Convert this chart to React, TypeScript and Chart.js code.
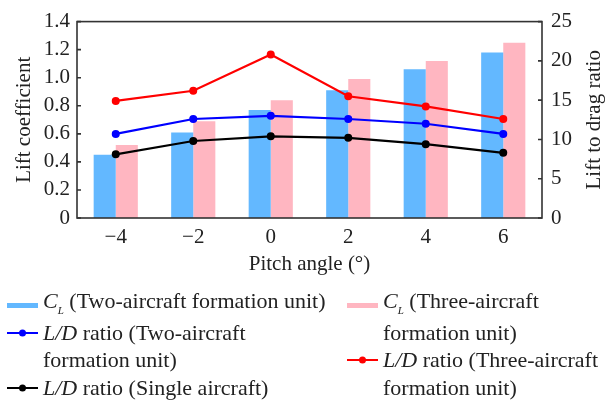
import React, { useEffect, useRef } from "react";
import { Chart, registerables } from "chart.js";

Chart.register(...registerables);

const categories = ["\u22124", "\u22122", "0", "2", "4", "6"];
const clTwo = [0.45, 0.61, 0.77, 0.91, 1.06, 1.18];
const clThree = [0.52, 0.69, 0.84, 0.99, 1.12, 1.25];
const ldTwo = [10.7, 12.6, 13.0, 12.6, 12.0, 10.7];
const ldThree = [14.9, 16.2, 20.8, 15.5, 14.2, 12.6];
const ldSingle = [8.1, 9.8, 10.4, 10.2, 9.4, 8.3];
const leftRange = [0, 1.4, 0.2];
const rightRange = [0, 25, 5];

const FONT = "'Liberation Serif', 'Times New Roman', serif";
const TEXT = "#222";
const BLUE_BAR = "#63B8FF";
const PINK_BAR = "#FFB6C1";

const framePlugin = {
  id: "frame",
  afterDatasetsDraw(chart: any) {
    const { ctx, chartArea } = chart;
    const { left, right, top, bottom } = chartArea;
    ctx.save();
    ctx.strokeStyle = "#333";
    ctx.lineWidth = 1.6;
    ctx.beginPath();
    const yl = chart.scales.y;
    const yr = chart.scales.y1;
    yl.ticks.forEach((t: any) => {
      const p = yl.getPixelForValue(t.value);
      ctx.moveTo(left, p);
      ctx.lineTo(left + 4, p);
    });
    yr.ticks.forEach((t: any) => {
      const p = yr.getPixelForValue(t.value);
      ctx.moveTo(right, p);
      ctx.lineTo(right - 4, p);
    });
    ctx.stroke();
    ctx.strokeRect(left, top, right - left, bottom - top);
    // right axis title reading bottom-to-top
    ctx.fillStyle = TEXT;
    ctx.font = `21px ${FONT}`;
    ctx.textAlign = "center";
    ctx.textBaseline = "middle";
    ctx.translate(594, (top + bottom) / 2);
    ctx.rotate(-Math.PI / 2);
    ctx.fillText("Lift to drag ratio", 0, 0);
    ctx.restore();
  },
};

function BarSwatch({ color }: { color: string }) {
  return (
    <svg width={31} height={28} style={{ display: "block" }}>
      <rect x={0} y={12} width={31} height={5} fill={color} />
    </svg>
  );
}

function LineSwatch({ color }: { color: string }) {
  return (
    <svg width={31} height={28} style={{ display: "block" }}>
      <line x1={0} y1={14} x2={31} y2={14} stroke={color} strokeWidth={2} />
      <circle cx={15.5} cy={14} r={3.5} fill={color} />
    </svg>
  );
}

const CL = () => (
  <span>
    <i>C</i>
    <sub style={{ fontSize: "11px", verticalAlign: "-6px", fontStyle: "italic" }}>L</sub>
  </span>
);
const LD = () => <i>L/D</i>;

type Row = { x: number; y: number; swatch?: React.ReactNode; text: React.ReactNode };

const rows: Row[] = [
  { x: 7, y: 305, swatch: <BarSwatch color={BLUE_BAR} />, text: <><CL /> (Two-aircraft formation unit)</> },
  { x: 7, y: 332.5, swatch: <LineSwatch color="#0000FF" />, text: <><LD /> ratio (Two-aircraft</> },
  { x: 7, y: 360, text: <>formation unit)</> },
  { x: 7, y: 387.5, swatch: <LineSwatch color="#000000" />, text: <><LD /> ratio (Single aircraft)</> },
  { x: 347, y: 305, swatch: <BarSwatch color={PINK_BAR} />, text: <><CL /> (Three-aircraft</> },
  { x: 347, y: 332.5, text: <>formation unit)</> },
  { x: 347, y: 360, swatch: <LineSwatch color="#FF0000" />, text: <><LD /> ratio (Three-aircraft</> },
  { x: 347, y: 387.5, text: <>formation unit)</> },
];

export default function App() {
  const ref = useRef<HTMLCanvasElement | null>(null);

  useEffect(() => {
    if (!ref.current) return;
    const lineDs = (label: string, data: number[], color: string) => ({
      type: "line" as const,
      label,
      data,
      yAxisID: "y1",
      borderColor: color,
      backgroundColor: color,
      borderWidth: 2.2,
      pointRadius: 4,
      pointBackgroundColor: color,
      pointBorderWidth: 0,
      tension: 0,
      order: 0,
    });
    const chart = new Chart(ref.current, {
      type: "bar",
      data: {
        labels: categories,
        datasets: [
          lineDs("L/D ratio (Three-aircraft formation unit)", ldThree, "#FF0000"),
          lineDs("L/D ratio (Two-aircraft formation unit)", ldTwo, "#0000FF"),
          lineDs("L/D ratio (Single aircraft)", ldSingle, "#000000"),
          {
            type: "bar",
            label: "CL (Two-aircraft formation unit)",
            data: clTwo,
            yAxisID: "y",
            backgroundColor: BLUE_BAR,
            borderWidth: 0,
            categoryPercentage: 0.57,
            barPercentage: 1.0,
            order: 1,
          },
          {
            type: "bar",
            label: "CL (Three-aircraft formation unit)",
            data: clThree,
            yAxisID: "y",
            backgroundColor: PINK_BAR,
            borderWidth: 0,
            categoryPercentage: 0.57,
            barPercentage: 1.0,
            order: 1,
          },
        ] as any,
      },
      options: {
        responsive: false,
        animation: false,
        layout: { padding: { top: 18, bottom: 117, left: 0, right: 0 } },
        plugins: { legend: { display: false }, tooltip: { enabled: false } },
        scales: {
          x: {
            type: "category",
            offset: true,
            grid: { display: false, drawTicks: false },
            border: { display: false },
            ticks: { color: TEXT, font: { family: FONT, size: 21 }, padding: 7, autoSkip: false, maxRotation: 0 },
            title: {
              display: true,
              text: "Pitch angle (\u00b0)",
              color: TEXT,
              font: { family: FONT, size: 21 },
              padding: { top: 0, bottom: 11.4 },
            },
            afterFit: (s: any) => {
              s.height = 70;
            },
          },
          y: {
            type: "linear",
            position: "left",
            min: leftRange[0],
            max: leftRange[1],
            grid: { display: false, drawTicks: false },
            border: { display: false },
            ticks: {
              stepSize: leftRange[2],
              autoSkip: false,
              color: TEXT,
              font: { family: FONT, size: 21 },
              padding: 7,
              callback: (v: any) => (Number(v) === 0 ? "0" : Number(v).toFixed(1)),
            },
            title: {
              display: true,
              text: "Lift coefficient",
              color: TEXT,
              font: { family: FONT, size: 21 },
              padding: { top: 11.4, bottom: 0 },
            },
            afterFit: (s: any) => {
              s.width = 77;
            },
          },
          y1: {
            type: "linear",
            position: "right",
            min: rightRange[0],
            max: rightRange[1],
            grid: { display: false, drawTicks: false },
            border: { display: false },
            ticks: {
              stepSize: rightRange[2],
              autoSkip: false,
              color: TEXT,
              font: { family: FONT, size: 21 },
              padding: 9,
            },
            afterFit: (s: any) => {
              s.width = 64;
            },
          },
        },
      } as any,
      plugins: [framePlugin],
    });
    return () => chart.destroy();
  }, []);

  return (
    <div style={{ position: "absolute", left: 0, top: 0, width: 606, height: 405, background: "#fff" }}>
      <canvas ref={ref} width={606} height={405} style={{ position: "absolute", left: 0, top: 0 }} />
      {rows.map((r, i) => (
        <div
          key={i}
          style={{
            position: "absolute",
            left: r.x,
            top: r.y - 14,
            height: 28,
            display: "flex",
            alignItems: "center",
            fontFamily: FONT,
            fontSize: 22,
            lineHeight: "28px",
            color: TEXT,
            whiteSpace: "nowrap",
          }}
        >
          <div style={{ width: 31 }}>{r.swatch}</div>
          <div style={{ marginLeft: 5 }}>{r.text}</div>
        </div>
      ))}
    </div>
  );
}
